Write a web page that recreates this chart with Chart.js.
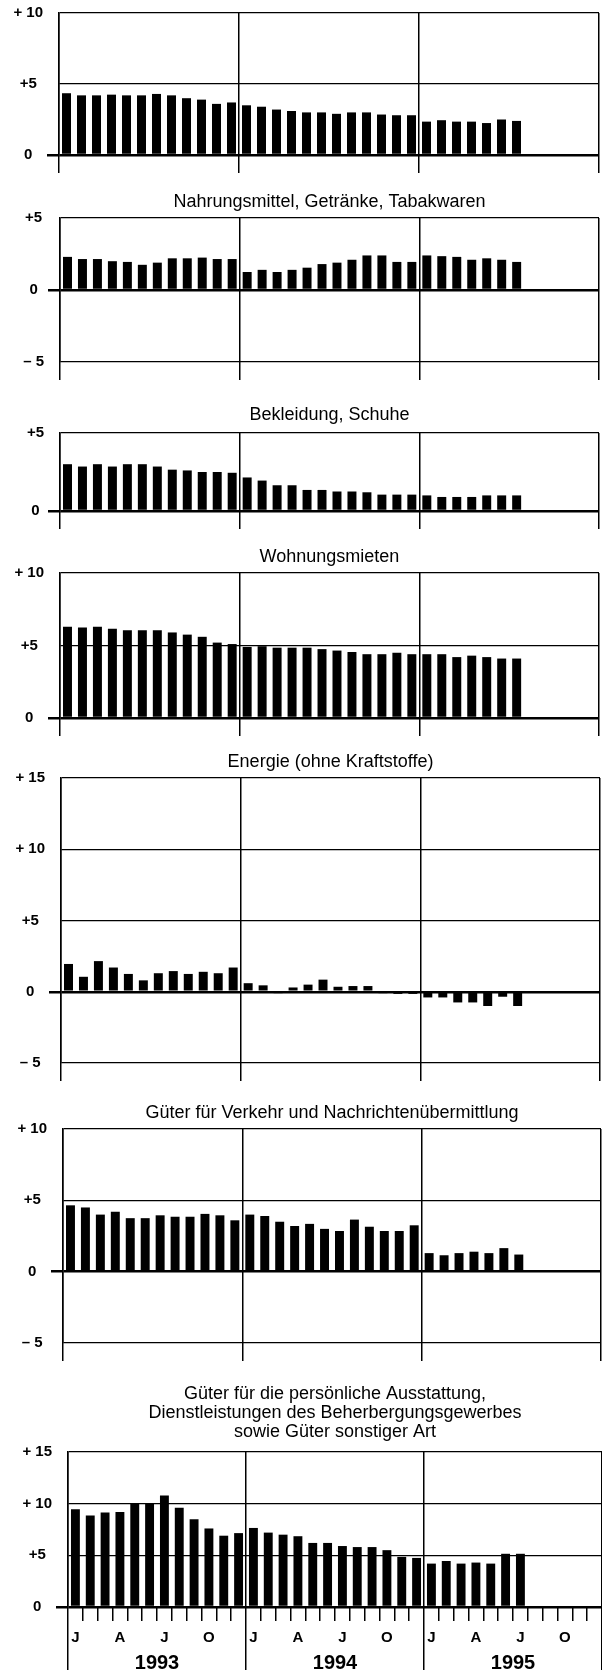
<!DOCTYPE html>
<html>
<head>
<meta charset="utf-8">
<script src="https://cdn.jsdelivr.net/npm/chart.js@4.4.0/dist/chart.umd.min.js"></script>
<style>
  html, body { margin: 0; padding: 0; background: #fff; }
  body { width: 602px; height: 1675px; position: relative; overflow: hidden; }
  canvas { position: absolute; left: 0; }
</style>
</head>
<body>
<script>
const FONT = "'Liberation Sans', Arial, Helvetica, sans-serif";

// ----- data ----- //
const YEARS = ["1993", "1994", "1995"];
const MONTH_NAMES = ["Jan", "Feb", "Mär", "Apr", "Mai", "Jun", "Jul", "Aug", "Sep", "Okt", "Nov", "Dez"];
const MONTH_LETTERS = ["J", "", "", "A", "", "", "J", "", "", "O", "", ""];
const MONTHS = [];
YEARS.forEach((y) => MONTH_NAMES.forEach((m) => MONTHS.push(m + " " + y)));

// tick labels, bottom to top
const TICKS_0_10 = ["0", "+5", "+ 10"];
const TICKS_M5_5 = ["\u2013 5", "0", "+5"];
const TICKS_0_5 = ["0", "+5"];
const TICKS_M5_15 = ["\u2013 5", "0", "+5", "+ 10", "+ 15"];
const TICKS_M5_10 = ["\u2013 5", "0", "+5", "+ 10"];
const TICKS_0_15 = ["0", "+5", "+ 10", "+ 15"];

// Veränderung gegenüber Vorjahresmonat in %, Jan 1993 - Jul 1995
const gesamt = [4.35, 4.2, 4.2, 4.25, 4.2, 4.2, 4.3, 4.2, 4.0, 3.9, 3.6, 3.7,
  3.5, 3.4, 3.2, 3.1, 3.0, 3.0, 2.9, 3.0, 3.0, 2.85, 2.8, 2.8,
  2.35, 2.45, 2.35, 2.35, 2.25, 2.5, 2.4];
const nahrung = [2.3, 2.15, 2.15, 2.0, 1.95, 1.75, 1.9, 2.2, 2.2, 2.25, 2.15, 2.15,
  1.25, 1.4, 1.25, 1.4, 1.55, 1.8, 1.9, 2.1, 2.4, 2.4, 1.95, 1.95,
  2.4, 2.35, 2.3, 2.1, 2.2, 2.1, 1.95];
const bekleidung = [3.0, 2.85, 3.0, 2.85, 3.0, 3.0, 2.85, 2.65, 2.6, 2.5, 2.5, 2.45,
  2.15, 1.95, 1.65, 1.65, 1.35, 1.35, 1.25, 1.25, 1.2, 1.05, 1.05, 1.05,
  1.0, 0.9, 0.9, 0.9, 1.0, 1.0, 1.0];
const mieten = [6.3, 6.25, 6.3, 6.15, 6.05, 6.05, 6.05, 5.9, 5.75, 5.6, 5.2, 5.1,
  4.9, 4.95, 4.85, 4.85, 4.85, 4.75, 4.65, 4.55, 4.4, 4.4, 4.5, 4.4,
  4.4, 4.4, 4.2, 4.3, 4.2, 4.1, 4.1];
const energie = [1.95, 1.05, 2.15, 1.7, 1.25, 0.8, 1.3, 1.45, 1.25, 1.4, 1.3, 1.7,
  0.6, 0.45, -0.1, 0.3, 0.5, 0.85, 0.35, 0.4, 0.4, -0.1, -0.15, -0.15,
  -0.4, -0.4, -0.75, -0.75, -1.0, -0.35, -1.0];
const verkehr = [4.65, 4.5, 4.0, 4.2, 3.75, 3.75, 3.95, 3.85, 3.85, 4.05, 3.95, 3.6,
  4.0, 3.9, 3.5, 3.2, 3.35, 3.0, 2.85, 3.65, 3.15, 2.85, 2.85, 3.25,
  1.3, 1.15, 1.3, 1.4, 1.3, 1.65, 1.2];
const sonstige = [9.45, 8.85, 9.15, 9.2, 10.05, 10.05, 10.8, 9.6, 8.5, 7.6, 6.9, 7.15,
  7.65, 7.2, 7.0, 6.85, 6.2, 6.2, 5.9, 5.8, 5.8, 5.5, 4.85, 4.75,
  4.2, 4.45, 4.2, 4.3, 4.2, 5.15, 5.15];

// ----- layout ----- //
const TITLE_SIZE = 18;
const TITLE_LH = 19;
const ZERO_TICK = 12;

const PANELS = [
  { values: gesamt, ticks: TICKS_0_10, min: 0, max: 10, plotTop: 9, plotBottom: 155, left: 59, right: 599 },
  { title: ["Nahrungsmittel, Getränke, Tabakwaren"], values: nahrung, ticks: TICKS_M5_5, min: -5, max: 5,
    plotTop: 218, plotBottom: 362, left: 60, right: 599, titlePad: 6 },
  { title: ["Bekleidung, Schuhe"], values: bekleidung, ticks: TICKS_0_5, min: 0, max: 5,
    plotTop: 433, plotBottom: 511, left: 60, right: 599, titlePad: 8 },
  { title: ["Wohnungsmieten"], values: mieten, ticks: TICKS_0_10, min: 0, max: 10,
    plotTop: 573, plotBottom: 718, left: 60, right: 599, titlePad: 6 },
  { title: ["Energie (ohne Kraftstoffe)"], values: energie, ticks: TICKS_M5_15, min: -5, max: 15,
    plotTop: 778, plotBottom: 1063, left: 61, right: 600, titlePad: 6 },
  { title: ["Güter für Verkehr und Nachrichtenübermittlung"], values: verkehr, ticks: TICKS_M5_10, min: -5, max: 10,
    plotTop: 1129, plotBottom: 1343, left: 63, right: 601, titlePad: 6 },
  { title: ["Güter für die persönliche Ausstattung,", "Dienstleistungen des Beherbergungsgewerbes", "sowie Güter sonstiger Art"],
    values: sonstige, ticks: TICKS_0_15, min: 0, max: 15, plotTop: 1452, plotBottom: 1607, left: 68, right: 602,
    titlePad: 10, last: true },
];

Chart.defaults.color = "#000";
Chart.defaults.font.family = FONT;

// year boundaries (and the closing right edge)
const isYearLine = (c) => c.type !== "tick" || c.index % 12 === 0;

function makePanel(p) {
  const titleH = p.title ? p.title.length * TITLE_LH + p.titlePad : 0;
  const padTop = p.title ? 0 : p.plotTop;
  const top = p.plotTop - titleH - padTop;
  const monthAxisH = p.last ? 42 : 20;
  const height = p.last ? 1675 - top : p.plotBottom + monthAxisH - top;
  const yearAxisH = height - (p.plotBottom - top) - monthAxisH;

  const canvas = document.createElement("canvas");
  canvas.width = 602;
  canvas.height = height;
  canvas.style.top = top + "px";
  document.body.appendChild(canvas);

  const scales = {
    x: {
      offset: true,
      afterFit: (s) => { s.height = monthAxisH; },
      border: { display: false },
      grid: {
        offset: true,
        color: (c) => (isYearLine(c) ? "#000" : "transparent"),
        lineWidth: 1.5,
        tickLength: p.last ? 63 : 18,
        tickWidth: 1.5,
        tickColor: (c) => (p.last || isYearLine(c) ? "#000" : "transparent"),
        tickBorderDash: (c) => (p.last && !isYearLine(c) ? [14, 200] : []),
      },
      ticks: {
        display: !!p.last,
        autoSkip: false,
        maxRotation: 0,
        padding: -41,
        font: { size: 15, weight: "bold" },
        callback: (v, i) => MONTH_LETTERS[i % 12],
      },
    },
    y: {
      min: p.min,
      max: p.max,
      afterFit: (s) => { s.width = p.left; },
      border: { display: true, color: "#000", width: 1.5 },
      grid: {
        color: "#000",
        lineWidth: (c) => (c.tick && c.tick.value === 0 ? 2.5 : 1.3),
        tickLength: ZERO_TICK,
        tickWidth: 2.5,
        tickColor: (c) => (c.tick && c.tick.value === 0 ? "#000" : "transparent"),
      },
      ticks: {
        stepSize: 5,
        crossAlign: "center",
        padding: 4,
        font: { size: 15, weight: "bold" },
        callback: (v, i) => p.ticks[i],
      },
    },
  };

  if (p.last) {
    scales.x2 = {
      type: "category",
      labels: YEARS,
      position: "bottom",
      weight: 1,
      offset: true,
      afterFit: (s) => { s.height = yearAxisH; },
      border: { display: false },
      grid: { display: false, drawTicks: false },
      ticks: { autoSkip: false, maxRotation: 0, padding: 2, font: { size: 20, weight: "bold" } },
    };
  }

  new Chart(canvas.getContext("2d"), {
    type: "bar",
    data: {
      labels: MONTHS,
      datasets: [
        {
          data: p.values,
          backgroundColor: "#000",
          barPercentage: 0.6,
          categoryPercentage: 1,
        },
      ],
    },
    options: {
      responsive: false,
      animation: false,
      layout: { padding: { top: padTop, right: 602 - p.right, left: 0, bottom: 0 } },
      plugins: {
        legend: { display: false },
        tooltip: { enabled: false },
        title: {
          display: !!p.title,
          text: p.title || "",
          fullSize: false,
          color: "#000",
          font: { size: TITLE_SIZE, weight: "normal", lineHeight: TITLE_LH / TITLE_SIZE },
          padding: { top: 0, bottom: p.titlePad || 0 },
        },
      },
      scales: scales,
    },
  });
}

PANELS.forEach(makePanel);
</script>
</body>
</html>
